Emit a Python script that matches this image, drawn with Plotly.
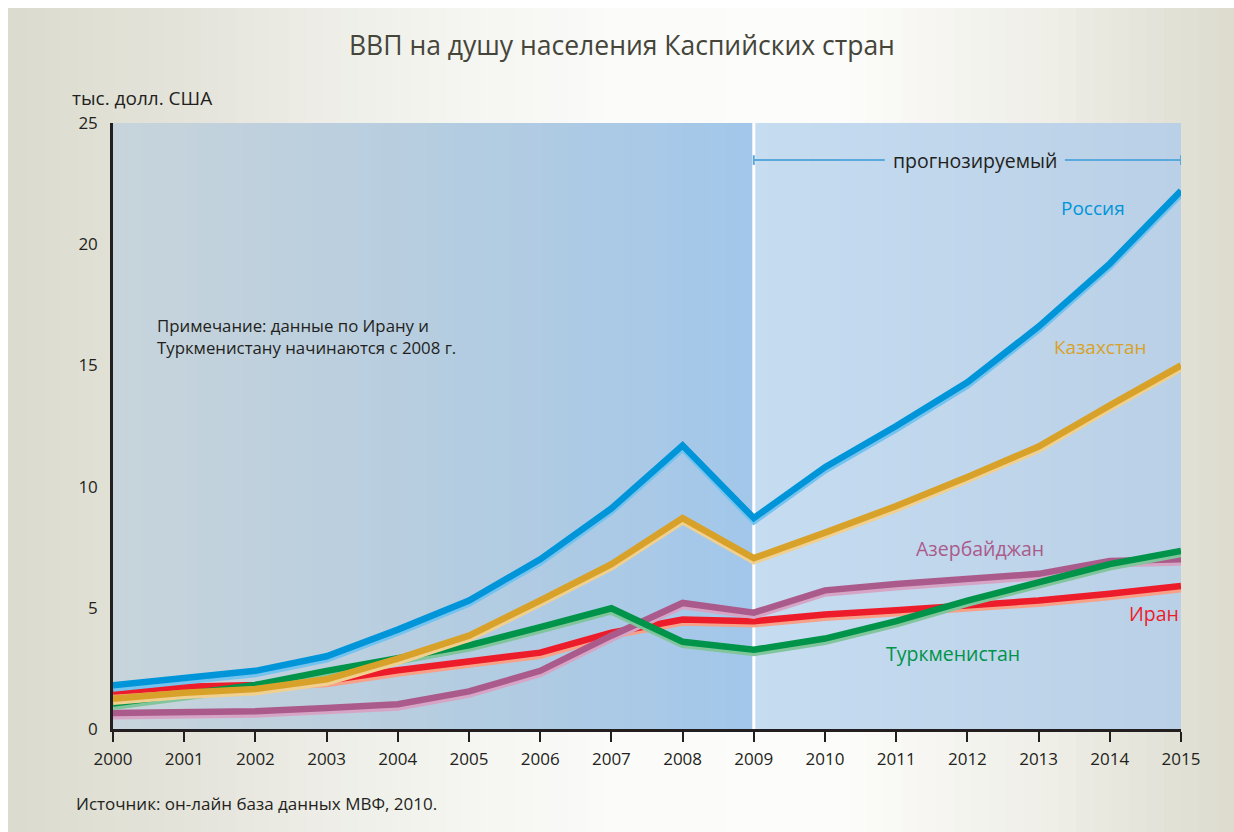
import plotly.graph_objects as go

# ---------------- data ----------------
years = list(range(2000, 2016))
russia = [1.8, 2.1, 2.4, 3.0, 4.1, 5.3, 7.0, 9.1, 11.7, 8.7, 10.8, 12.5, 14.3, 16.6, 19.2, 22.2]
kazakhstan = [1.25, 1.5, 1.65, 2.05, 2.9, 3.85, 5.3, 6.8, 8.7, 7.05, 8.1, 9.2, 10.4, 11.65, 13.35, 15.0]
azerbaijan = [0.66, 0.68, 0.73, 0.87, 1.02, 1.55, 2.4, 3.85, 5.2, 4.8, 5.72, 5.98, 6.2, 6.4, 6.93, 7.0]
iran = [1.55, 1.74, 1.82, 1.99, 2.42, 2.77, 3.15, 3.97, 4.52, 4.45, 4.72, 4.9, 5.07, 5.3, 5.58, 5.9]
turkmenistan = [1.05, 1.41, 1.82, 2.4, 2.92, 3.45, 4.2, 4.98, 3.6, 3.27, 3.73, 4.45, 5.3, 6.04, 6.8, 7.35]

names = ["Россия", "Казахстан", "Азербайджан", "Иран", "Туркменистан"]
y_ticks = [0, 5, 10, 15, 20, 25]
grid_vals = [5, 10, 15, 20]
forecast_start = 2009

title = "ВВП на душу населения Каспийских стран"
units = "тыс. долл. США"
source = "Источник: он-лайн база данных МВФ, 2010."
note = "Примечание: данные по Ирану и<br>Туркменистану начинаются с 2008 г."
forecast_label = "прогнозируемый"

FONT = "Open Sans, Noto Sans, DejaVu Sans, sans-serif"
DARK = "#231f20"

# ---------------- helpers ----------------
def hex2rgb(h):
    h = h.lstrip("#")
    return tuple(int(h[i:i + 2], 16) for i in (0, 2, 4))

def interp_color(stops, t):
    for (t0, c0), (t1, c1) in zip(stops[:-1], stops[1:]):
        if t0 <= t <= t1:
            f = 0 if t1 == t0 else (t - t0) / (t1 - t0)
            a, b = hex2rgb(c0), hex2rgb(c1)
            return "rgb(%d,%d,%d)" % tuple(round(a[i] + (b[i] - a[i]) * f) for i in range(3))
    return stops[-1][1]

def strips(x0, x1, y0, y1, stops, n, xref, yref):
    out = []
    w = (x1 - x0) / n
    for i in range(n):
        t = (i + 0.5) / n
        out.append(dict(type="rect", xref=xref, yref=yref,
                        x0=x0 + i * w, x1=x0 + (i + 1) * w + w * 0.05,
                        y0=y0, y1=y1, line=dict(width=0),
                        fillcolor=interp_color(stops, t), layer="below"))
    return out

# layout geometry (pixels)
W, H = 1234, 832
L, R, T, B = 113, 53, 123, 103
pw, ph = W - L - R, H - T - B

def px(xp):
    return (xp - L) / pw

def py(yp):
    return (H - B - yp) / ph

shapes = []
# page background gradient
page_stops = [(0, "#dcdbcf"), (0.15, "#e5e4db"), (0.32, "#f2f2ed"), (0.5, "#fbfbf9"),
              (0.68, "#fcfcfa"), (0.85, "#efeee7"), (1, "#dcdbce")]
shapes += strips(px(8), px(W), py(H), py(8), page_stops, 70, "paper", "paper")
# plot area gradients
shapes += strips(years[0], forecast_start, 0, 1,
                 [(0, "#c7d4db"), (0.5, "#b6cde0"), (1, "#a2c7ea")], 45, "x", "paper")
shapes += strips(forecast_start, years[-1], 0, 1,
                 [(0, "#c6dcf1"), (1, "#b9d0e6")], 30, "x", "paper")
# forecast separator
shapes.append(dict(type="line", xref="x", yref="paper", x0=forecast_start, x1=forecast_start,
                   y0=0, y1=1, line=dict(color="white", width=3), layer="below"))

# forecast bracket line
fy = 23.47
fc = "#5aa8dc"
gap_l, gap_r = 2010.84, 2013.37
shapes += [
    dict(type="line", xref="x", yref="y2", x0=forecast_start, x1=gap_l, y0=fy, y1=fy,
         line=dict(color=fc, width=2)),
    dict(type="line", xref="x", yref="y2", x0=gap_r, x1=years[-1], y0=fy, y1=fy,
         line=dict(color=fc, width=2)),
    dict(type="line", xref="x", yref="y2", x0=forecast_start, x1=forecast_start,
         y0=fy - 0.2, y1=fy + 0.2, line=dict(color=fc, width=2)),
    dict(type="line", xref="x", yref="y2", x0=years[-1], x1=years[-1],
         y0=fy - 0.2, y1=fy + 0.2, line=dict(color=fc, width=2)),
]

fig = go.Figure()

series = [
    ("Иран", iran, "#ed1c2b", "#f7a188"),
    ("Азербайджан", azerbaijan, "#ab5b8b", "#d6a5c6"),
    ("Туркменистан", turkmenistan, "#00934a", "#80c59c"),
    ("Казахстан", kazakhstan, "#d8a22a", "#efd090"),
    ("Россия", russia, "#0095d9", "#74c3ef"),
]
shade = 0.13
for name, vals, col, light in series:
    fig.add_trace(go.Scatter(x=years, y=[v - shade for v in vals], mode="lines",
                             line=dict(color=light, width=6.5), xaxis="x", yaxis="y2",
                             hoverinfo="skip", showlegend=False))
    fig.add_trace(go.Scatter(x=years, y=vals, mode="lines", name=name,
                             line=dict(color=col, width=6.5), xaxis="x", yaxis="y2",
                             showlegend=False))

annotations = [
    dict(text=title, xref="paper", yref="paper", x=px(622), y=py(45), showarrow=False,
         xanchor="center", yanchor="middle", font=dict(family=FONT, size=26.5, color="#45453a")),
    dict(text=units, xref="paper", yref="paper", x=px(71), y=py(98), showarrow=False,
         xanchor="left", yanchor="middle", borderpad=0,
         font=dict(family=FONT, size=19, color=DARK)),
    dict(text=source, xref="paper", yref="paper", x=px(74), y=py(803), showarrow=False,
         xanchor="left", yanchor="middle", font=dict(family=FONT, size=17, color=DARK)),
    dict(text=note, xref="paper", yref="paper", x=px(155), y=py(336), showarrow=False,
         xanchor="left", yanchor="middle", align="left",
         font=dict(family=FONT, size=16.8, color=DARK)),
    dict(text=forecast_label, xref="x", yref="y2", x=(gap_l + gap_r) / 2, y=fy, showarrow=False,
         xanchor="center", yanchor="middle", font=dict(family=FONT, size=19.5, color=DARK)),
    dict(text="Россия", xref="x", yref="y2", x=2013.76, y=21.5, showarrow=False,
         font=dict(family=FONT, size=19, color="#0095d9")),
    dict(text="Казахстан", xref="x", yref="y2", x=2013.86, y=15.75, showarrow=False,
         font=dict(family=FONT, size=19, color="#d8a22a")),
    dict(text="Азербайджан", xref="x", yref="y2", x=2012.18, y=7.43, showarrow=False,
         font=dict(family=FONT, size=19.5, color="#ab5b8b")),
    dict(text="Иран", xref="x", yref="y2", x=2015, y=4.78, showarrow=False, xanchor="right",
         font=dict(family=FONT, size=19.5, color="#ed1c2b")),
    dict(text="Туркменистан", xref="x", yref="y2", x=2011.8, y=3.13, showarrow=False,
         font=dict(family=FONT, size=19.5, color="#00934a")),
]

fig.update_layout(
    width=W, height=H,
    margin=dict(l=L, r=R, t=T, b=B, pad=0),
    paper_bgcolor="white",
    plot_bgcolor="rgba(0,0,0,0)",
    font=dict(family=FONT, color=DARK),
    showlegend=False,
    shapes=shapes,
    annotations=annotations,
    xaxis=dict(range=[years[0], years[-1]], tickvals=years, ticktext=[str(y) for y in years],
               showgrid=False, zeroline=False, showline=True, linecolor=DARK, linewidth=2.5,
               ticks="outside", ticklen=10, tickwidth=2, tickcolor=DARK,
               ticklabelstandoff=3, tickfont=dict(family=FONT, size=17, color=DARK)),
    yaxis=dict(range=[y_ticks[0], y_ticks[-1]], tickvals=grid_vals, showgrid=True,
               gridcolor="white", gridwidth=2, showticklabels=False, showline=False,
               zeroline=False, ticks=""),
    yaxis2=dict(range=[y_ticks[0], y_ticks[-1]], overlaying="y", side="left", anchor="x",
                tickvals=y_ticks, showgrid=False, zeroline=False, showline=True,
                linecolor=DARK, linewidth=2.5, ticks="", ticklabelstandoff=9,
                tickfont=dict(family=FONT, size=17, color=DARK)),
)

fig.write_html("out.html")
